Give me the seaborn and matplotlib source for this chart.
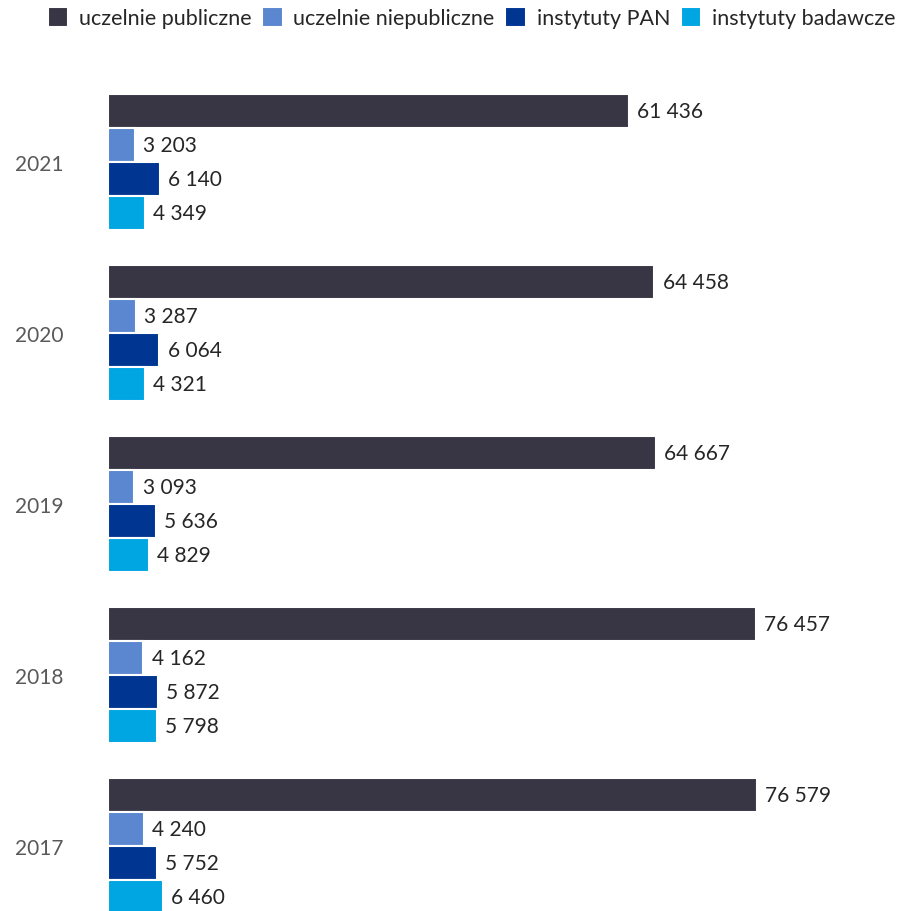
import matplotlib
matplotlib.use("Agg")
import matplotlib.pyplot as plt
import seaborn as sns
import pandas as pd

years = ["2021", "2020", "2019", "2018", "2017"]
series = ["uczelnie publiczne", "uczelnie niepubliczne", "instytuty PAN", "instytuty badawcze"]
publiczne = [61436, 64458, 64667, 76457, 76579]
niepubliczne = [3203, 3287, 3093, 4162, 4240]
pan = [6140, 6064, 5636, 5872, 5752]
badawcze = [4349, 4321, 4829, 5798, 6460]
colors = ["#383644", "#5B87D0", "#003591", "#00A6E2"]

rows = []
for name, vals in zip(series, [publiczne, niepubliczne, pan, badawcze]):
    for y, v in zip(years, vals):
        rows.append({"rok": y, "typ": name, "wartosc": v})
df = pd.DataFrame(rows)

sns.set_theme(style="white")
plt.rcParams["font.family"] = ["Lato", "DejaVu Sans"]

W, H = 907, 912
fig = plt.figure(figsize=(W / 100, H / 100), dpi=100)
left_px, top_px = 108, 60
ax = fig.add_axes([left_px / W, 0, 0.985 - left_px / W, 1 - top_px / H])

sns.barplot(data=df, y="rok", x="wartosc", hue="typ", order=years,
            hue_order=series, palette=colors, saturation=1, orient="h", width=0.8,
            edgecolor="white", linewidth=1.5, ax=ax, legend=True)

for cont in ax.containers:
    labels = [f"{int(v):,}".replace(",", " ") for v in cont.datavalues]
    ax.bar_label(cont, labels=labels, padding=6, fontsize=15, color="#262626")

# horizontal scale: 76 579 spans ~649 px
px_per_unit = 649 / 76579
ax_w_px = (0.985 - left_px / W) * W
ax.set_xlim(0, ax_w_px / px_per_unit)
ax.set_ylim((H - 163) / 171, (top_px - 163) / 171)

ax.set_xlabel("")
ax.set_ylabel("")
ax.set_xticks([])
ax.tick_params(axis="y", length=0, labelsize=15, labelcolor="#595959", pad=67)
for lab in ax.get_yticklabels():
    lab.set_horizontalalignment("left")
for s in ax.spines.values():
    s.set_visible(False)

handles, labels = ax.get_legend_handles_labels()
ax.get_legend().remove()
fig.legend(handles, labels, loc="upper center", bbox_to_anchor=(0.52, 1.012), ncol=4,
           frameon=False, fontsize=15.5, handlelength=0.95, handleheight=1.0,
           handletextpad=0.5, columnspacing=0.5)

fig.savefig("out.png", dpi=100)
